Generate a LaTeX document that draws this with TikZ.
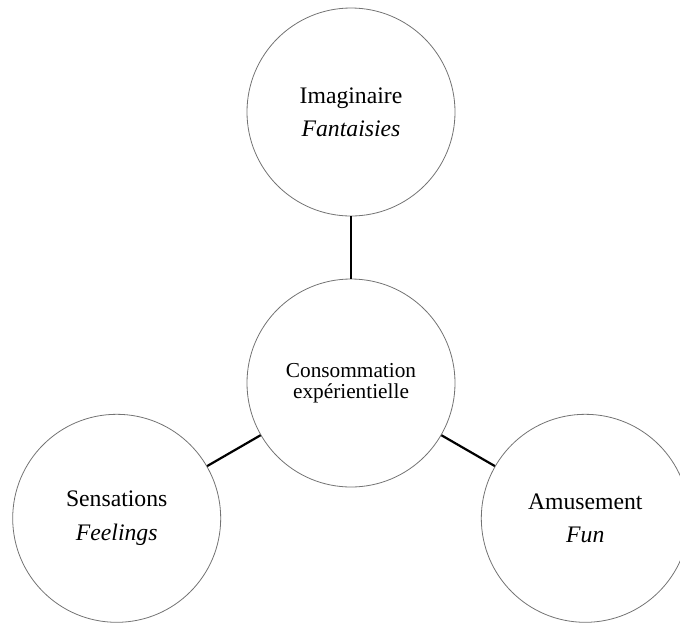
\documentclass[tikz,border=0pt]{standalone}
\usepackage{fontspec}
\setmainfont{Liberation Serif}
\begin{document}
\begin{tikzpicture}[x=1pt,y=-1pt,
  bubble/.style={circle, draw=black!55, line width=0.8pt, minimum size=208pt, inner sep=0pt, align=center, font=\fontsize{23.7}{33.4}\selectfont},
  hub/.style={bubble, font=\fontsize{21.3}{21}\selectfont},
  link/.style={line width=2.2pt, black}]
\useasboundingbox (0,0) rectangle (680,625);
\node[hub] (c) at (351,383) {Consommation\\expérientielle};
\node[bubble] (t) at (351,112) {Imaginaire\\\textit{Fantaisies}};
\node[bubble] (l) at (116.7,518.3) {Sensations\\\textit{Feelings}};
\node[bubble] (r) at (585.3,518.3) {Amusement\\\textit{Fun}};
\draw[link] (t) -- (c);
\draw[link] (l) -- (c);
\draw[link] (r) -- (c);
\end{tikzpicture}
\end{document}
